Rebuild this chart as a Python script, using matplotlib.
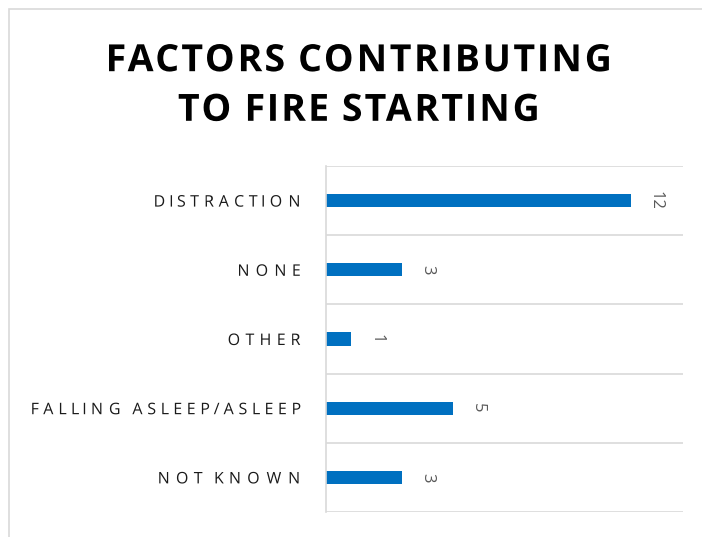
import matplotlib
matplotlib.use("Agg")
import numpy as np
import matplotlib.pyplot as plt
from matplotlib.patches import Rectangle
from matplotlib.ticker import FixedLocator
from matplotlib.patheffects import AbstractPathEffect
from matplotlib.path import Path

categories = ["DISTRACTION", "NONE", "OTHER", "FALLING ASLEEP/ASLEEP", "NOT KNOWN"]
values = [12, 3, 1, 5, 3]
title = "FACTORS CONTRIBUTING\nTO FIRE STARTING"


class LetterSpread(AbstractPathEffect):
    """Spread glyph contours apart (letter spacing) around an anchor."""

    def __init__(self, factor, anchor=1.0):
        super().__init__()
        self.factor = factor
        self.anchor = anchor

    def draw_path(self, renderer, gc, tpath, affine, rgbFace=None):
        codes = tpath.codes
        verts = np.array(tpath.vertices, dtype=float)
        if codes is None or len(verts) == 0:
            renderer.draw_path(gc, tpath, affine, rgbFace)
            return
        valid = codes != Path.CLOSEPOLY
        xs = verts[valid, 0]
        xmin, xmax = xs.min(), xs.max()
        ref = xmin + self.anchor * (xmax - xmin)
        starts = list(np.where(codes == Path.MOVETO)[0]) + [len(verts)]
        for a, b in zip(starts[:-1], starts[1:]):
            m = valid[a:b]
            seg = verts[a:b, 0][m]
            if len(seg) == 0:
                continue
            cx = (seg.min() + seg.max()) / 2
            verts[a:b, 0] += (self.factor - 1) * (cx - ref)
        renderer.draw_path(gc, Path(verts, codes), affine, rgbFace)


W, H = 702, 537
fig = plt.figure(figsize=(W / 100, H / 100), dpi=100)
fig.patch.set_facecolor("white")

# chart-area border (partly cropped in reference)
fig.patches.append(Rectangle((9 / W, -0.05), 1.1, 1 - 9 / H + 0.05, transform=fig.transFigure,
                             fill=False, edgecolor="#d9d9d9", linewidth=1.2))

ax = fig.add_axes([326 / W, 1 - 512 / H, (683 - 326) / W, (512 - 166) / H])
n = len(categories)
ypos = list(range(n))
ax.barh(ypos, values, height=0.19, color="#0070c0")
ax.set_ylim(n - 0.5, -0.5)
ax.set_xlim(0, 14.05)
ax.set_yticks(ypos)
ax.set_yticklabels(categories, fontsize=11.5, color="#1a1a1a", family="Open Sans")
for lab in ax.get_yticklabels():
    lab.set_path_effects([LetterSpread(1.51, anchor=1.0)])
ax.tick_params(axis="y", length=0, pad=17)
ax.set_xticks([])
ax.yaxis.set_minor_locator(FixedLocator([i - 0.5 for i in range(n + 1)]))
ax.tick_params(axis="y", which="minor", length=0)
ax.grid(axis="y", which="minor", color="#d9d9d9", linewidth=1.2)
ax.set_axisbelow(True)
for s in ["top", "right", "bottom"]:
    ax.spines[s].set_visible(False)
ax.spines["left"].set_color("#d9d9d9")
ax.spines["left"].set_linewidth(1.2)

for y, v in zip(ypos, values):
    ax.annotate(str(v), (v, y), xytext=(25, 0), textcoords="offset pixels",
                rotation=270, ha="center", va="center", fontsize=12, color="#595959",
                family="Open Sans")

t = fig.text(359 / W, 1 - 86 / H, title, ha="center", va="center", fontsize=27, fontweight="bold",
             family="Open Sans", color="black", linespacing=1.4)
t.set_path_effects([LetterSpread(1.1, anchor=0.5)])

fig.savefig("out.png", dpi=100)
